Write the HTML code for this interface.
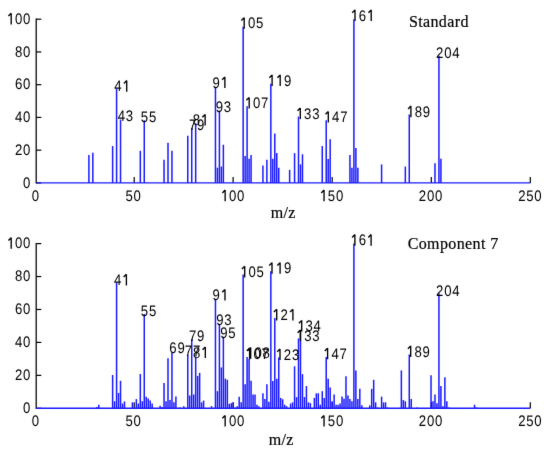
<!DOCTYPE html>
<html><head><meta charset="utf-8"><style>
html,body{margin:0;padding:0;background:#fff;}
svg{display:block;}
.n{font-family:"Liberation Sans",sans-serif;font-size:15.3px;fill:#000;text-rendering:geometricPrecision;}
.one{fill:none;stroke:#000;stroke-width:1.35;}
.s{font-family:"Liberation Serif",serif;font-size:16px;fill:#000;letter-spacing:0.38px;stroke:#000;stroke-width:0.2px;}
</style></head><body>
<svg width="550" height="452" viewBox="0 0 550 452">
<defs><filter id="soft" x="0" y="0" width="550" height="452" filterUnits="userSpaceOnUse" color-interpolation-filters="sRGB"><feConvolveMatrix order="3" kernelMatrix="0.0052 0.0619 0.0052 0.0619 0.7314 0.0619 0.0052 0.0619 0.0052" edgeMode="duplicate" preserveAlpha="true"/></filter></defs>
<g filter="url(#soft)">
<rect width="550" height="452" fill="#fff"/>
<line x1="36.20" y1="18.60" x2="36.20" y2="183.50" stroke="#000" stroke-width="1.25"/>
<line x1="36.20" y1="182.90" x2="41.30" y2="182.90" stroke="#000" stroke-width="1.2"/>
<text class="n" transform="translate(23.10,187.70) scale(0.86,1)">0</text>
<line x1="36.20" y1="150.16" x2="41.30" y2="150.16" stroke="#000" stroke-width="1.2"/>
<text class="n" transform="translate(15.00,154.96) scale(0.86,1)">2</text><text class="n" transform="translate(23.10,154.96) scale(0.86,1)">0</text>
<line x1="36.20" y1="117.42" x2="41.30" y2="117.42" stroke="#000" stroke-width="1.2"/>
<text class="n" transform="translate(15.00,122.22) scale(0.86,1)">4</text><text class="n" transform="translate(23.10,122.22) scale(0.86,1)">0</text>
<line x1="36.20" y1="84.68" x2="41.30" y2="84.68" stroke="#000" stroke-width="1.2"/>
<text class="n" transform="translate(15.00,89.48) scale(0.86,1)">6</text><text class="n" transform="translate(23.10,89.48) scale(0.86,1)">0</text>
<line x1="36.20" y1="51.94" x2="41.30" y2="51.94" stroke="#000" stroke-width="1.2"/>
<text class="n" transform="translate(15.00,56.74) scale(0.86,1)">8</text><text class="n" transform="translate(23.10,56.74) scale(0.86,1)">0</text>
<line x1="36.20" y1="19.20" x2="41.30" y2="19.20" stroke="#000" stroke-width="1.2"/>
<path class="one" d="M8.40,16.10L11.20,13.30M11.20,13.20V24.40"/><text class="n" transform="translate(15.00,24.00) scale(0.86,1)">0</text><text class="n" transform="translate(23.10,24.00) scale(0.86,1)">0</text>
<text class="n" transform="translate(31.84,200.80) scale(0.86,1)">0</text>
<line x1="134.20" y1="182.90" x2="134.20" y2="176.90" stroke="#000" stroke-width="1.2"/>
<text class="n" transform="translate(125.39,200.80) scale(0.86,1)">5</text><text class="n" transform="translate(133.49,200.80) scale(0.86,1)">0</text>
<line x1="233.10" y1="182.90" x2="233.10" y2="176.90" stroke="#000" stroke-width="1.2"/>
<path class="one" d="M222.35,192.90L225.15,190.10M225.15,190.00V201.20"/><text class="n" transform="translate(228.95,200.80) scale(0.86,1)">0</text><text class="n" transform="translate(237.05,200.80) scale(0.86,1)">0</text>
<line x1="332.20" y1="182.90" x2="332.20" y2="176.90" stroke="#000" stroke-width="1.2"/>
<path class="one" d="M321.25,192.90L324.05,190.10M324.05,190.00V201.20"/><text class="n" transform="translate(327.85,200.80) scale(0.86,1)">5</text><text class="n" transform="translate(335.95,200.80) scale(0.86,1)">0</text>
<line x1="431.30" y1="182.90" x2="431.30" y2="176.90" stroke="#000" stroke-width="1.2"/>
<text class="n" transform="translate(418.87,200.80) scale(0.86,1)">2</text><text class="n" transform="translate(426.97,200.80) scale(0.86,1)">0</text><text class="n" transform="translate(435.07,200.80) scale(0.86,1)">0</text>
<line x1="530.30" y1="182.90" x2="530.30" y2="176.90" stroke="#000" stroke-width="1.2"/>
<text class="n" transform="translate(518.17,200.80) scale(0.86,1)">2</text><text class="n" transform="translate(526.27,200.80) scale(0.86,1)">5</text><text class="n" transform="translate(534.37,200.80) scale(0.86,1)">0</text>
<line x1="88.89" y1="182.90" x2="88.89" y2="155.07" stroke="#1a1aff" stroke-width="1.5"/>
<line x1="92.84" y1="182.90" x2="92.84" y2="152.78" stroke="#1a1aff" stroke-width="1.5"/>
<line x1="112.62" y1="182.90" x2="112.62" y2="146.07" stroke="#1a1aff" stroke-width="1.5"/>
<line x1="116.58" y1="182.90" x2="116.58" y2="88.61" stroke="#1a1aff" stroke-width="1.5"/>
<line x1="120.53" y1="182.90" x2="120.53" y2="119.55" stroke="#1a1aff" stroke-width="1.5"/>
<line x1="140.31" y1="182.90" x2="140.31" y2="150.81" stroke="#1a1aff" stroke-width="1.5"/>
<line x1="144.26" y1="182.90" x2="144.26" y2="120.37" stroke="#1a1aff" stroke-width="1.5"/>
<line x1="164.04" y1="182.90" x2="164.04" y2="159.82" stroke="#1a1aff" stroke-width="1.5"/>
<line x1="168.00" y1="182.90" x2="168.00" y2="142.79" stroke="#1a1aff" stroke-width="1.5"/>
<line x1="171.95" y1="182.90" x2="171.95" y2="150.81" stroke="#1a1aff" stroke-width="1.5"/>
<line x1="187.77" y1="182.90" x2="187.77" y2="135.75" stroke="#1a1aff" stroke-width="1.5"/>
<line x1="191.73" y1="182.90" x2="191.73" y2="128.06" stroke="#1a1aff" stroke-width="1.5"/>
<line x1="195.68" y1="182.90" x2="195.68" y2="123.31" stroke="#1a1aff" stroke-width="1.5"/>
<line x1="215.46" y1="182.90" x2="215.46" y2="87.14" stroke="#1a1aff" stroke-width="1.5"/>
<line x1="217.44" y1="182.90" x2="217.44" y2="167.68" stroke="#1a1aff" stroke-width="1.5"/>
<line x1="219.42" y1="182.90" x2="219.42" y2="110.71" stroke="#1a1aff" stroke-width="1.5"/>
<line x1="221.39" y1="182.90" x2="221.39" y2="166.53" stroke="#1a1aff" stroke-width="1.5"/>
<line x1="223.37" y1="182.90" x2="223.37" y2="144.76" stroke="#1a1aff" stroke-width="1.5"/>
<line x1="243.15" y1="182.90" x2="243.15" y2="26.73" stroke="#1a1aff" stroke-width="1.5"/>
<line x1="245.13" y1="182.90" x2="245.13" y2="156.05" stroke="#1a1aff" stroke-width="1.5"/>
<line x1="247.10" y1="182.90" x2="247.10" y2="106.29" stroke="#1a1aff" stroke-width="1.5"/>
<line x1="249.08" y1="182.90" x2="249.08" y2="158.67" stroke="#1a1aff" stroke-width="1.5"/>
<line x1="251.06" y1="182.90" x2="251.06" y2="154.91" stroke="#1a1aff" stroke-width="1.5"/>
<line x1="262.93" y1="182.90" x2="262.93" y2="165.38" stroke="#1a1aff" stroke-width="1.5"/>
<line x1="266.88" y1="182.90" x2="266.88" y2="159.82" stroke="#1a1aff" stroke-width="1.5"/>
<line x1="270.84" y1="182.90" x2="270.84" y2="83.86" stroke="#1a1aff" stroke-width="1.5"/>
<line x1="272.81" y1="182.90" x2="272.81" y2="158.67" stroke="#1a1aff" stroke-width="1.5"/>
<line x1="274.79" y1="182.90" x2="274.79" y2="133.46" stroke="#1a1aff" stroke-width="1.5"/>
<line x1="276.77" y1="182.90" x2="276.77" y2="153.11" stroke="#1a1aff" stroke-width="1.5"/>
<line x1="278.75" y1="182.90" x2="278.75" y2="167.68" stroke="#1a1aff" stroke-width="1.5"/>
<line x1="289.62" y1="182.90" x2="289.62" y2="169.80" stroke="#1a1aff" stroke-width="1.5"/>
<line x1="294.57" y1="182.90" x2="294.57" y2="153.11" stroke="#1a1aff" stroke-width="1.5"/>
<line x1="298.52" y1="182.90" x2="298.52" y2="116.60" stroke="#1a1aff" stroke-width="1.5"/>
<line x1="300.50" y1="182.90" x2="300.50" y2="164.40" stroke="#1a1aff" stroke-width="1.5"/>
<line x1="302.48" y1="182.90" x2="302.48" y2="154.25" stroke="#1a1aff" stroke-width="1.5"/>
<line x1="322.26" y1="182.90" x2="322.26" y2="146.07" stroke="#1a1aff" stroke-width="1.5"/>
<line x1="326.21" y1="182.90" x2="326.21" y2="120.20" stroke="#1a1aff" stroke-width="1.5"/>
<line x1="328.19" y1="182.90" x2="328.19" y2="159.00" stroke="#1a1aff" stroke-width="1.5"/>
<line x1="330.17" y1="182.90" x2="330.17" y2="139.19" stroke="#1a1aff" stroke-width="1.5"/>
<line x1="349.94" y1="182.90" x2="349.94" y2="154.91" stroke="#1a1aff" stroke-width="1.5"/>
<line x1="351.92" y1="182.90" x2="351.92" y2="167.68" stroke="#1a1aff" stroke-width="1.5"/>
<line x1="353.90" y1="182.90" x2="353.90" y2="19.20" stroke="#1a1aff" stroke-width="1.5"/>
<line x1="355.88" y1="182.90" x2="355.88" y2="148.03" stroke="#1a1aff" stroke-width="1.5"/>
<line x1="357.86" y1="182.90" x2="357.86" y2="167.68" stroke="#1a1aff" stroke-width="1.5"/>
<line x1="381.59" y1="182.90" x2="381.59" y2="164.40" stroke="#1a1aff" stroke-width="1.5"/>
<line x1="405.32" y1="182.90" x2="405.32" y2="166.53" stroke="#1a1aff" stroke-width="1.5"/>
<line x1="409.28" y1="182.90" x2="409.28" y2="114.47" stroke="#1a1aff" stroke-width="1.5"/>
<line x1="434.99" y1="182.90" x2="434.99" y2="163.26" stroke="#1a1aff" stroke-width="1.5"/>
<line x1="438.94" y1="182.90" x2="438.94" y2="55.71" stroke="#1a1aff" stroke-width="1.5"/>
<line x1="440.92" y1="182.90" x2="440.92" y2="158.67" stroke="#1a1aff" stroke-width="1.5"/>
<line x1="36.20" y1="182.90" x2="530.30" y2="182.90" stroke="#1a1aff" stroke-width="1.4"/>
<text class="n" transform="translate(114.30,91.30) scale(0.86,1)">4</text><path class="one" d="M123.90,83.40L126.70,80.60M126.70,80.50V91.70"/>
<text class="n" transform="translate(117.70,121.10) scale(0.86,1)">4</text><text class="n" transform="translate(125.80,121.10) scale(0.86,1)">3</text>
<text class="n" transform="translate(140.87,121.70) scale(0.86,1)">5</text><text class="n" transform="translate(148.97,121.70) scale(0.86,1)">5</text>
<text class="n" transform="translate(188.93,129.70) scale(0.86,1)">7</text><text class="n" transform="translate(197.03,129.70) scale(0.86,1)">9</text>
<text class="n" transform="translate(192.73,125.10) scale(0.86,1)">8</text><path class="one" d="M202.33,117.20L205.13,114.40M205.13,114.30V125.50"/>
<text class="n" transform="translate(212.48,87.70) scale(0.86,1)">9</text><path class="one" d="M222.08,79.80L224.88,77.00M224.88,76.90V88.10"/>
<text class="n" transform="translate(215.68,111.50) scale(0.86,1)">9</text><text class="n" transform="translate(223.78,111.50) scale(0.86,1)">3</text>
<path class="one" d="M241.40,20.50L244.20,17.70M244.20,17.60V28.80"/><text class="n" transform="translate(248.00,28.40) scale(0.86,1)">0</text><text class="n" transform="translate(256.10,28.40) scale(0.86,1)">5</text>
<path class="one" d="M246.40,100.30L249.20,97.50M249.20,97.40V108.60"/><text class="n" transform="translate(253.00,108.20) scale(0.86,1)">0</text><text class="n" transform="translate(261.10,108.20) scale(0.86,1)">7</text>
<path class="one" d="M269.30,77.70L272.10,74.90M272.10,74.80V86.00"/><path class="one" d="M277.40,77.70L280.20,74.90M280.20,74.80V86.00"/><text class="n" transform="translate(284.00,85.60) scale(0.86,1)">9</text>
<path class="one" d="M297.50,110.80L300.30,108.00M300.30,107.90V119.10"/><text class="n" transform="translate(304.10,118.70) scale(0.86,1)">3</text><text class="n" transform="translate(312.20,118.70) scale(0.86,1)">3</text>
<path class="one" d="M325.50,114.30L328.30,111.50M328.30,111.40V122.60"/><text class="n" transform="translate(332.10,122.20) scale(0.86,1)">4</text><text class="n" transform="translate(340.20,122.20) scale(0.86,1)">7</text>
<path class="one" d="M352.20,12.70L355.00,9.90M355.00,9.80V21.00"/><text class="n" transform="translate(358.80,20.60) scale(0.86,1)">6</text><path class="one" d="M368.40,12.70L371.20,9.90M371.20,9.80V21.00"/>
<path class="one" d="M408.10,108.90L410.90,106.10M410.90,106.00V117.20"/><text class="n" transform="translate(414.70,116.80) scale(0.86,1)">8</text><text class="n" transform="translate(422.80,116.80) scale(0.86,1)">9</text>
<text class="n" transform="translate(436.04,58.20) scale(0.86,1)">2</text><text class="n" transform="translate(444.14,58.20) scale(0.86,1)">0</text><text class="n" transform="translate(452.24,58.20) scale(0.86,1)">4</text>
<text class="s" x="283.30" y="217.70" text-anchor="middle">m/z</text>
<text class="s" x="408.90" y="27.30">Standard</text>
<line x1="36.20" y1="243.00" x2="36.20" y2="408.90" stroke="#000" stroke-width="1.25"/>
<line x1="36.20" y1="408.30" x2="41.30" y2="408.30" stroke="#000" stroke-width="1.2"/>
<text class="n" transform="translate(23.10,413.10) scale(0.86,1)">0</text>
<line x1="36.20" y1="375.36" x2="41.30" y2="375.36" stroke="#000" stroke-width="1.2"/>
<text class="n" transform="translate(15.00,380.16) scale(0.86,1)">2</text><text class="n" transform="translate(23.10,380.16) scale(0.86,1)">0</text>
<line x1="36.20" y1="342.42" x2="41.30" y2="342.42" stroke="#000" stroke-width="1.2"/>
<text class="n" transform="translate(15.00,347.22) scale(0.86,1)">4</text><text class="n" transform="translate(23.10,347.22) scale(0.86,1)">0</text>
<line x1="36.20" y1="309.48" x2="41.30" y2="309.48" stroke="#000" stroke-width="1.2"/>
<text class="n" transform="translate(15.00,314.28) scale(0.86,1)">6</text><text class="n" transform="translate(23.10,314.28) scale(0.86,1)">0</text>
<line x1="36.20" y1="276.54" x2="41.30" y2="276.54" stroke="#000" stroke-width="1.2"/>
<text class="n" transform="translate(15.00,281.34) scale(0.86,1)">8</text><text class="n" transform="translate(23.10,281.34) scale(0.86,1)">0</text>
<line x1="36.20" y1="243.60" x2="41.30" y2="243.60" stroke="#000" stroke-width="1.2"/>
<path class="one" d="M8.40,240.50L11.20,237.70M11.20,237.60V248.80"/><text class="n" transform="translate(15.00,248.40) scale(0.86,1)">0</text><text class="n" transform="translate(23.10,248.40) scale(0.86,1)">0</text>
<text class="n" transform="translate(31.84,426.20) scale(0.86,1)">0</text>
<line x1="134.20" y1="408.30" x2="134.20" y2="402.30" stroke="#000" stroke-width="1.2"/>
<text class="n" transform="translate(125.39,426.20) scale(0.86,1)">5</text><text class="n" transform="translate(133.49,426.20) scale(0.86,1)">0</text>
<line x1="233.10" y1="408.30" x2="233.10" y2="402.30" stroke="#000" stroke-width="1.2"/>
<path class="one" d="M222.35,418.30L225.15,415.50M225.15,415.40V426.60"/><text class="n" transform="translate(228.95,426.20) scale(0.86,1)">0</text><text class="n" transform="translate(237.05,426.20) scale(0.86,1)">0</text>
<line x1="332.20" y1="408.30" x2="332.20" y2="402.30" stroke="#000" stroke-width="1.2"/>
<path class="one" d="M321.25,418.30L324.05,415.50M324.05,415.40V426.60"/><text class="n" transform="translate(327.85,426.20) scale(0.86,1)">5</text><text class="n" transform="translate(335.95,426.20) scale(0.86,1)">0</text>
<line x1="431.30" y1="408.30" x2="431.30" y2="402.30" stroke="#000" stroke-width="1.2"/>
<text class="n" transform="translate(418.87,426.20) scale(0.86,1)">2</text><text class="n" transform="translate(426.97,426.20) scale(0.86,1)">0</text><text class="n" transform="translate(435.07,426.20) scale(0.86,1)">0</text>
<line x1="530.30" y1="408.30" x2="530.30" y2="402.30" stroke="#000" stroke-width="1.2"/>
<text class="n" transform="translate(518.17,426.20) scale(0.86,1)">2</text><text class="n" transform="translate(526.27,426.20) scale(0.86,1)">5</text><text class="n" transform="translate(534.37,426.20) scale(0.86,1)">0</text>
<line x1="96.80" y1="408.30" x2="96.80" y2="406.98" stroke="#1a1aff" stroke-width="1.5"/>
<line x1="98.78" y1="408.30" x2="98.78" y2="404.68" stroke="#1a1aff" stroke-width="1.5"/>
<line x1="112.62" y1="408.30" x2="112.62" y2="375.03" stroke="#1a1aff" stroke-width="1.5"/>
<line x1="114.60" y1="408.30" x2="114.60" y2="401.22" stroke="#1a1aff" stroke-width="1.5"/>
<line x1="116.58" y1="408.30" x2="116.58" y2="282.63" stroke="#1a1aff" stroke-width="1.5"/>
<line x1="118.55" y1="408.30" x2="118.55" y2="392.98" stroke="#1a1aff" stroke-width="1.5"/>
<line x1="120.53" y1="408.30" x2="120.53" y2="380.80" stroke="#1a1aff" stroke-width="1.5"/>
<line x1="122.51" y1="408.30" x2="122.51" y2="403.52" stroke="#1a1aff" stroke-width="1.5"/>
<line x1="124.49" y1="408.30" x2="124.49" y2="401.38" stroke="#1a1aff" stroke-width="1.5"/>
<line x1="132.40" y1="408.30" x2="132.40" y2="402.37" stroke="#1a1aff" stroke-width="1.5"/>
<line x1="136.35" y1="408.30" x2="136.35" y2="399.08" stroke="#1a1aff" stroke-width="1.5"/>
<line x1="138.33" y1="408.30" x2="138.33" y2="403.52" stroke="#1a1aff" stroke-width="1.5"/>
<line x1="140.31" y1="408.30" x2="140.31" y2="374.04" stroke="#1a1aff" stroke-width="1.5"/>
<line x1="142.29" y1="408.30" x2="142.29" y2="401.22" stroke="#1a1aff" stroke-width="1.5"/>
<line x1="144.26" y1="408.30" x2="144.26" y2="313.93" stroke="#1a1aff" stroke-width="1.5"/>
<line x1="146.24" y1="408.30" x2="146.24" y2="396.77" stroke="#1a1aff" stroke-width="1.5"/>
<line x1="148.22" y1="408.30" x2="148.22" y2="398.42" stroke="#1a1aff" stroke-width="1.5"/>
<line x1="150.20" y1="408.30" x2="150.20" y2="400.56" stroke="#1a1aff" stroke-width="1.5"/>
<line x1="152.17" y1="408.30" x2="152.17" y2="403.52" stroke="#1a1aff" stroke-width="1.5"/>
<line x1="160.09" y1="408.30" x2="160.09" y2="405.83" stroke="#1a1aff" stroke-width="1.5"/>
<line x1="162.06" y1="408.30" x2="162.06" y2="406.98" stroke="#1a1aff" stroke-width="1.5"/>
<line x1="164.04" y1="408.30" x2="164.04" y2="383.10" stroke="#1a1aff" stroke-width="1.5"/>
<line x1="166.02" y1="408.30" x2="166.02" y2="401.22" stroke="#1a1aff" stroke-width="1.5"/>
<line x1="168.00" y1="408.30" x2="168.00" y2="358.23" stroke="#1a1aff" stroke-width="1.5"/>
<line x1="169.97" y1="408.30" x2="169.97" y2="400.06" stroke="#1a1aff" stroke-width="1.5"/>
<line x1="171.95" y1="408.30" x2="171.95" y2="352.14" stroke="#1a1aff" stroke-width="1.5"/>
<line x1="173.93" y1="408.30" x2="173.93" y2="402.37" stroke="#1a1aff" stroke-width="1.5"/>
<line x1="175.91" y1="408.30" x2="175.91" y2="396.61" stroke="#1a1aff" stroke-width="1.5"/>
<line x1="179.86" y1="408.30" x2="179.86" y2="407.48" stroke="#1a1aff" stroke-width="1.5"/>
<line x1="183.82" y1="408.30" x2="183.82" y2="406.16" stroke="#1a1aff" stroke-width="1.5"/>
<line x1="187.77" y1="408.30" x2="187.77" y2="354.94" stroke="#1a1aff" stroke-width="1.5"/>
<line x1="189.75" y1="408.30" x2="189.75" y2="395.62" stroke="#1a1aff" stroke-width="1.5"/>
<line x1="191.73" y1="408.30" x2="191.73" y2="339.13" stroke="#1a1aff" stroke-width="1.5"/>
<line x1="193.71" y1="408.30" x2="193.71" y2="394.47" stroke="#1a1aff" stroke-width="1.5"/>
<line x1="195.68" y1="408.30" x2="195.68" y2="356.58" stroke="#1a1aff" stroke-width="1.5"/>
<line x1="197.66" y1="408.30" x2="197.66" y2="376.02" stroke="#1a1aff" stroke-width="1.5"/>
<line x1="199.64" y1="408.30" x2="199.64" y2="372.89" stroke="#1a1aff" stroke-width="1.5"/>
<line x1="201.62" y1="408.30" x2="201.62" y2="402.37" stroke="#1a1aff" stroke-width="1.5"/>
<line x1="203.59" y1="408.30" x2="203.59" y2="400.56" stroke="#1a1aff" stroke-width="1.5"/>
<line x1="211.51" y1="408.30" x2="211.51" y2="406.16" stroke="#1a1aff" stroke-width="1.5"/>
<line x1="215.46" y1="408.30" x2="215.46" y2="299.93" stroke="#1a1aff" stroke-width="1.5"/>
<line x1="217.44" y1="408.30" x2="217.44" y2="391.17" stroke="#1a1aff" stroke-width="1.5"/>
<line x1="219.42" y1="408.30" x2="219.42" y2="324.47" stroke="#1a1aff" stroke-width="1.5"/>
<line x1="221.39" y1="408.30" x2="221.39" y2="367.45" stroke="#1a1aff" stroke-width="1.5"/>
<line x1="223.37" y1="408.30" x2="223.37" y2="336.82" stroke="#1a1aff" stroke-width="1.5"/>
<line x1="225.35" y1="408.30" x2="225.35" y2="378.65" stroke="#1a1aff" stroke-width="1.5"/>
<line x1="227.33" y1="408.30" x2="227.33" y2="379.81" stroke="#1a1aff" stroke-width="1.5"/>
<line x1="229.30" y1="408.30" x2="229.30" y2="403.85" stroke="#1a1aff" stroke-width="1.5"/>
<line x1="231.28" y1="408.30" x2="231.28" y2="403.19" stroke="#1a1aff" stroke-width="1.5"/>
<line x1="233.26" y1="408.30" x2="233.26" y2="402.37" stroke="#1a1aff" stroke-width="1.5"/>
<line x1="235.24" y1="408.30" x2="235.24" y2="407.48" stroke="#1a1aff" stroke-width="1.5"/>
<line x1="237.22" y1="408.30" x2="237.22" y2="406.16" stroke="#1a1aff" stroke-width="1.5"/>
<line x1="239.19" y1="408.30" x2="239.19" y2="396.77" stroke="#1a1aff" stroke-width="1.5"/>
<line x1="241.17" y1="408.30" x2="241.17" y2="402.37" stroke="#1a1aff" stroke-width="1.5"/>
<line x1="243.15" y1="408.30" x2="243.15" y2="274.56" stroke="#1a1aff" stroke-width="1.5"/>
<line x1="245.13" y1="408.30" x2="245.13" y2="384.25" stroke="#1a1aff" stroke-width="1.5"/>
<line x1="247.10" y1="408.30" x2="247.10" y2="357.08" stroke="#1a1aff" stroke-width="1.5"/>
<line x1="249.08" y1="408.30" x2="249.08" y2="358.89" stroke="#1a1aff" stroke-width="1.5"/>
<line x1="251.06" y1="408.30" x2="251.06" y2="380.80" stroke="#1a1aff" stroke-width="1.5"/>
<line x1="253.04" y1="408.30" x2="253.04" y2="394.47" stroke="#1a1aff" stroke-width="1.5"/>
<line x1="255.01" y1="408.30" x2="255.01" y2="394.47" stroke="#1a1aff" stroke-width="1.5"/>
<line x1="256.99" y1="408.30" x2="256.99" y2="404.68" stroke="#1a1aff" stroke-width="1.5"/>
<line x1="258.97" y1="408.30" x2="258.97" y2="406.16" stroke="#1a1aff" stroke-width="1.5"/>
<line x1="262.93" y1="408.30" x2="262.93" y2="393.31" stroke="#1a1aff" stroke-width="1.5"/>
<line x1="264.90" y1="408.30" x2="264.90" y2="399.08" stroke="#1a1aff" stroke-width="1.5"/>
<line x1="266.88" y1="408.30" x2="266.88" y2="384.25" stroke="#1a1aff" stroke-width="1.5"/>
<line x1="268.86" y1="408.30" x2="268.86" y2="401.71" stroke="#1a1aff" stroke-width="1.5"/>
<line x1="270.84" y1="408.30" x2="270.84" y2="271.27" stroke="#1a1aff" stroke-width="1.5"/>
<line x1="272.81" y1="408.30" x2="272.81" y2="380.96" stroke="#1a1aff" stroke-width="1.5"/>
<line x1="274.79" y1="408.30" x2="274.79" y2="317.88" stroke="#1a1aff" stroke-width="1.5"/>
<line x1="276.77" y1="408.30" x2="276.77" y2="378.65" stroke="#1a1aff" stroke-width="1.5"/>
<line x1="278.75" y1="408.30" x2="278.75" y2="357.57" stroke="#1a1aff" stroke-width="1.5"/>
<line x1="280.72" y1="408.30" x2="280.72" y2="397.92" stroke="#1a1aff" stroke-width="1.5"/>
<line x1="282.70" y1="408.30" x2="282.70" y2="399.24" stroke="#1a1aff" stroke-width="1.5"/>
<line x1="284.68" y1="408.30" x2="284.68" y2="404.68" stroke="#1a1aff" stroke-width="1.5"/>
<line x1="286.66" y1="408.30" x2="286.66" y2="406.16" stroke="#1a1aff" stroke-width="1.5"/>
<line x1="290.61" y1="408.30" x2="290.61" y2="403.52" stroke="#1a1aff" stroke-width="1.5"/>
<line x1="292.59" y1="408.30" x2="292.59" y2="402.37" stroke="#1a1aff" stroke-width="1.5"/>
<line x1="294.57" y1="408.30" x2="294.57" y2="366.30" stroke="#1a1aff" stroke-width="1.5"/>
<line x1="296.55" y1="408.30" x2="296.55" y2="397.10" stroke="#1a1aff" stroke-width="1.5"/>
<line x1="298.52" y1="408.30" x2="298.52" y2="338.47" stroke="#1a1aff" stroke-width="1.5"/>
<line x1="300.50" y1="408.30" x2="300.50" y2="330.07" stroke="#1a1aff" stroke-width="1.5"/>
<line x1="302.48" y1="408.30" x2="302.48" y2="374.21" stroke="#1a1aff" stroke-width="1.5"/>
<line x1="304.46" y1="408.30" x2="304.46" y2="397.10" stroke="#1a1aff" stroke-width="1.5"/>
<line x1="306.43" y1="408.30" x2="306.43" y2="386.07" stroke="#1a1aff" stroke-width="1.5"/>
<line x1="308.41" y1="408.30" x2="308.41" y2="402.37" stroke="#1a1aff" stroke-width="1.5"/>
<line x1="310.39" y1="408.30" x2="310.39" y2="403.19" stroke="#1a1aff" stroke-width="1.5"/>
<line x1="314.35" y1="408.30" x2="314.35" y2="397.92" stroke="#1a1aff" stroke-width="1.5"/>
<line x1="316.32" y1="408.30" x2="316.32" y2="393.31" stroke="#1a1aff" stroke-width="1.5"/>
<line x1="318.30" y1="408.30" x2="318.30" y2="393.31" stroke="#1a1aff" stroke-width="1.5"/>
<line x1="320.28" y1="408.30" x2="320.28" y2="404.68" stroke="#1a1aff" stroke-width="1.5"/>
<line x1="322.26" y1="408.30" x2="322.26" y2="391.17" stroke="#1a1aff" stroke-width="1.5"/>
<line x1="324.23" y1="408.30" x2="324.23" y2="397.92" stroke="#1a1aff" stroke-width="1.5"/>
<line x1="326.21" y1="408.30" x2="326.21" y2="356.91" stroke="#1a1aff" stroke-width="1.5"/>
<line x1="328.19" y1="408.30" x2="328.19" y2="378.65" stroke="#1a1aff" stroke-width="1.5"/>
<line x1="330.17" y1="408.30" x2="330.17" y2="387.55" stroke="#1a1aff" stroke-width="1.5"/>
<line x1="332.15" y1="408.30" x2="332.15" y2="401.22" stroke="#1a1aff" stroke-width="1.5"/>
<line x1="334.12" y1="408.30" x2="334.12" y2="394.47" stroke="#1a1aff" stroke-width="1.5"/>
<line x1="336.10" y1="408.30" x2="336.10" y2="404.68" stroke="#1a1aff" stroke-width="1.5"/>
<line x1="338.08" y1="408.30" x2="338.08" y2="404.68" stroke="#1a1aff" stroke-width="1.5"/>
<line x1="340.06" y1="408.30" x2="340.06" y2="403.52" stroke="#1a1aff" stroke-width="1.5"/>
<line x1="342.03" y1="408.30" x2="342.03" y2="396.61" stroke="#1a1aff" stroke-width="1.5"/>
<line x1="344.01" y1="408.30" x2="344.01" y2="398.75" stroke="#1a1aff" stroke-width="1.5"/>
<line x1="345.99" y1="408.30" x2="345.99" y2="376.18" stroke="#1a1aff" stroke-width="1.5"/>
<line x1="347.97" y1="408.30" x2="347.97" y2="395.62" stroke="#1a1aff" stroke-width="1.5"/>
<line x1="349.94" y1="408.30" x2="349.94" y2="399.08" stroke="#1a1aff" stroke-width="1.5"/>
<line x1="351.92" y1="408.30" x2="351.92" y2="401.22" stroke="#1a1aff" stroke-width="1.5"/>
<line x1="353.90" y1="408.30" x2="353.90" y2="243.60" stroke="#1a1aff" stroke-width="1.5"/>
<line x1="355.88" y1="408.30" x2="355.88" y2="370.42" stroke="#1a1aff" stroke-width="1.5"/>
<line x1="357.86" y1="408.30" x2="357.86" y2="399.08" stroke="#1a1aff" stroke-width="1.5"/>
<line x1="359.83" y1="408.30" x2="359.83" y2="388.87" stroke="#1a1aff" stroke-width="1.5"/>
<line x1="361.81" y1="408.30" x2="361.81" y2="405.34" stroke="#1a1aff" stroke-width="1.5"/>
<line x1="369.72" y1="408.30" x2="369.72" y2="405.34" stroke="#1a1aff" stroke-width="1.5"/>
<line x1="371.70" y1="408.30" x2="371.70" y2="388.87" stroke="#1a1aff" stroke-width="1.5"/>
<line x1="373.68" y1="408.30" x2="373.68" y2="379.81" stroke="#1a1aff" stroke-width="1.5"/>
<line x1="375.65" y1="408.30" x2="375.65" y2="402.37" stroke="#1a1aff" stroke-width="1.5"/>
<line x1="377.63" y1="408.30" x2="377.63" y2="407.48" stroke="#1a1aff" stroke-width="1.5"/>
<line x1="381.59" y1="408.30" x2="381.59" y2="396.61" stroke="#1a1aff" stroke-width="1.5"/>
<line x1="383.57" y1="408.30" x2="383.57" y2="402.37" stroke="#1a1aff" stroke-width="1.5"/>
<line x1="385.54" y1="408.30" x2="385.54" y2="402.37" stroke="#1a1aff" stroke-width="1.5"/>
<line x1="387.52" y1="408.30" x2="387.52" y2="407.48" stroke="#1a1aff" stroke-width="1.5"/>
<line x1="401.36" y1="408.30" x2="401.36" y2="370.42" stroke="#1a1aff" stroke-width="1.5"/>
<line x1="403.34" y1="408.30" x2="403.34" y2="400.06" stroke="#1a1aff" stroke-width="1.5"/>
<line x1="405.32" y1="408.30" x2="405.32" y2="401.22" stroke="#1a1aff" stroke-width="1.5"/>
<line x1="409.28" y1="408.30" x2="409.28" y2="354.44" stroke="#1a1aff" stroke-width="1.5"/>
<line x1="411.25" y1="408.30" x2="411.25" y2="399.08" stroke="#1a1aff" stroke-width="1.5"/>
<line x1="417.19" y1="408.30" x2="417.19" y2="407.48" stroke="#1a1aff" stroke-width="1.5"/>
<line x1="431.03" y1="408.30" x2="431.03" y2="375.36" stroke="#1a1aff" stroke-width="1.5"/>
<line x1="433.01" y1="408.30" x2="433.01" y2="401.22" stroke="#1a1aff" stroke-width="1.5"/>
<line x1="434.99" y1="408.30" x2="434.99" y2="394.47" stroke="#1a1aff" stroke-width="1.5"/>
<line x1="436.96" y1="408.30" x2="436.96" y2="403.19" stroke="#1a1aff" stroke-width="1.5"/>
<line x1="438.94" y1="408.30" x2="438.94" y2="293.34" stroke="#1a1aff" stroke-width="1.5"/>
<line x1="440.92" y1="408.30" x2="440.92" y2="386.07" stroke="#1a1aff" stroke-width="1.5"/>
<line x1="442.90" y1="408.30" x2="442.90" y2="406.16" stroke="#1a1aff" stroke-width="1.5"/>
<line x1="444.87" y1="408.30" x2="444.87" y2="377.17" stroke="#1a1aff" stroke-width="1.5"/>
<line x1="446.85" y1="408.30" x2="446.85" y2="401.22" stroke="#1a1aff" stroke-width="1.5"/>
<line x1="448.83" y1="408.30" x2="448.83" y2="407.48" stroke="#1a1aff" stroke-width="1.5"/>
<line x1="474.54" y1="408.30" x2="474.54" y2="404.68" stroke="#1a1aff" stroke-width="1.5"/>
<line x1="476.52" y1="408.30" x2="476.52" y2="407.48" stroke="#1a1aff" stroke-width="1.5"/>
<line x1="36.20" y1="408.30" x2="530.30" y2="408.30" stroke="#1a1aff" stroke-width="1.4"/>
<text class="n" transform="translate(114.00,285.00) scale(0.86,1)">4</text><path class="one" d="M123.60,277.10L126.40,274.30M126.40,274.20V285.40"/>
<text class="n" transform="translate(140.87,315.60) scale(0.86,1)">5</text><text class="n" transform="translate(148.97,315.60) scale(0.86,1)">5</text>
<text class="n" transform="translate(169.33,352.70) scale(0.86,1)">6</text><text class="n" transform="translate(177.43,352.70) scale(0.86,1)">9</text>
<text class="n" transform="translate(184.83,356.10) scale(0.86,1)">7</text><text class="n" transform="translate(192.93,356.10) scale(0.86,1)">7</text>
<text class="n" transform="translate(188.93,340.60) scale(0.86,1)">7</text><text class="n" transform="translate(197.03,340.60) scale(0.86,1)">9</text>
<text class="n" transform="translate(192.93,357.70) scale(0.86,1)">8</text><path class="one" d="M202.53,349.80L205.33,347.00M205.33,346.90V358.10"/>
<text class="n" transform="translate(212.58,300.20) scale(0.86,1)">9</text><path class="one" d="M222.18,292.30L224.98,289.50M224.98,289.40V300.60"/>
<text class="n" transform="translate(216.18,325.10) scale(0.86,1)">9</text><text class="n" transform="translate(224.28,325.10) scale(0.86,1)">3</text>
<text class="n" transform="translate(220.18,338.40) scale(0.86,1)">9</text><text class="n" transform="translate(228.28,338.40) scale(0.86,1)">5</text>
<path class="one" d="M241.90,269.10L244.70,266.30M244.70,266.20V277.40"/><text class="n" transform="translate(248.50,277.00) scale(0.86,1)">0</text><text class="n" transform="translate(256.60,277.00) scale(0.86,1)">5</text>
<path class="one" d="M246.80,350.90L249.60,348.10M249.60,348.00V359.20"/><text class="n" transform="translate(253.40,358.80) scale(0.86,1)">0</text><text class="n" transform="translate(261.50,358.80) scale(0.86,1)">7</text>
<path class="one" d="M247.90,350.40L250.70,347.60M250.70,347.50V358.70"/><text class="n" transform="translate(254.50,358.30) scale(0.86,1)">0</text><text class="n" transform="translate(262.60,358.30) scale(0.86,1)">8</text>
<path class="one" d="M269.20,265.50L272.00,262.70M272.00,262.60V273.80"/><path class="one" d="M277.30,265.50L280.10,262.70M280.10,262.60V273.80"/><text class="n" transform="translate(283.90,273.40) scale(0.86,1)">9</text>
<path class="one" d="M273.90,312.10L276.70,309.30M276.70,309.20V320.40"/><text class="n" transform="translate(280.50,320.00) scale(0.86,1)">2</text><path class="one" d="M290.10,312.10L292.90,309.30M292.90,309.20V320.40"/>
<path class="one" d="M277.20,351.80L280.00,349.00M280.00,348.90V360.10"/><text class="n" transform="translate(283.80,359.70) scale(0.86,1)">2</text><text class="n" transform="translate(291.90,359.70) scale(0.86,1)">3</text>
<path class="one" d="M297.60,332.70L300.40,329.90M300.40,329.80V341.00"/><text class="n" transform="translate(304.20,340.60) scale(0.86,1)">3</text><text class="n" transform="translate(312.30,340.60) scale(0.86,1)">3</text>
<path class="one" d="M298.90,323.20L301.70,320.40M301.70,320.30V331.50"/><text class="n" transform="translate(305.50,331.10) scale(0.86,1)">3</text><text class="n" transform="translate(313.60,331.10) scale(0.86,1)">4</text>
<path class="one" d="M324.80,351.00L327.60,348.20M327.60,348.10V359.30"/><text class="n" transform="translate(331.40,358.90) scale(0.86,1)">4</text><text class="n" transform="translate(339.50,358.90) scale(0.86,1)">7</text>
<path class="one" d="M352.10,237.40L354.90,234.60M354.90,234.50V245.70"/><text class="n" transform="translate(358.70,245.30) scale(0.86,1)">6</text><path class="one" d="M368.30,237.40L371.10,234.60M371.10,234.50V245.70"/>
<path class="one" d="M407.90,348.70L410.70,345.90M410.70,345.80V357.00"/><text class="n" transform="translate(414.50,356.60) scale(0.86,1)">8</text><text class="n" transform="translate(422.60,356.60) scale(0.86,1)">9</text>
<text class="n" transform="translate(436.04,295.90) scale(0.86,1)">2</text><text class="n" transform="translate(444.14,295.90) scale(0.86,1)">0</text><text class="n" transform="translate(452.24,295.90) scale(0.86,1)">4</text>
<text class="s" x="281.20" y="445.40" text-anchor="middle">m/z</text>
<text class="s" x="407.70" y="249.20">Component 7</text>
</g>
</svg>
</body></html>
